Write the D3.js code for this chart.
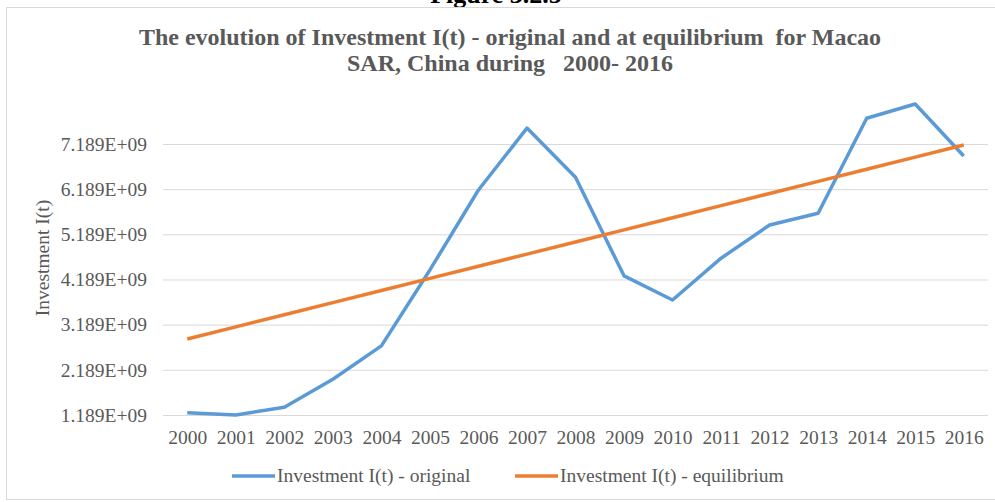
<!doctype html>
<html>
<head>
<meta charset="UTF-8">
<script src="https://d3js.org/d3.v7.min.js"></script>
<style>
  body { margin: 0; background: #fff; }
  text { font-family: "Liberation Serif", "Times New Roman", serif; }
</style>
</head>
<body>
<script>

  // data (values in units, not billions)
  years = ['2000','2001','2002','2003','2004','2005','2006','2007','2008','2009','2010','2011','2012','2013','2014','2015','2016']
  original = [1.24e9, 1.19e9, 1.36e9, 1.98e9, 2.72e9, 4.40e9, 6.17e9, 7.54e9, 6.45e9, 4.27e9, 3.735e9, 4.66e9, 5.395e9, 5.654e9, 7.757e9, 8.074e9, 6.923e9]
  equilibrium = [2.872e9, 3.140e9, 3.409e9, 3.677e9, 3.946e9, 4.214e9, 4.482e9, 4.751e9, 5.019e9, 5.288e9, 5.556e9, 5.824e9, 6.093e9, 6.361e9, 6.630e9, 6.898e9, 7.166e9]
  yTicks = [1.189e9, 2.189e9, 3.189e9, 4.189e9, 5.189e9, 6.189e9, 7.189e9]
  seriesNames = ['Investment I(t) - original', 'Investment I(t) - equilibrium']
  colors = ['#5b9bd5', '#ed7d31']

  width = 995
  height = 502
  grey = '#595959'

  svg = d3.select('body').append('svg')
    .attr('width', width)
    .attr('height', height)

  // cropped heading above the chart box
  svg.append('text')
    .text('Figure 3.2.5')
    .attr('x', 496)
    .attr('y', 3)
    .attr('text-anchor', 'middle')
    .style('font-size', '26px')
    .style('font-weight', 'bold')
    .style('fill', '#000')

  svg.append('rect')
    .attr('x', 6.5).attr('y', 7.5)
    .attr('width', 995).attr('height', 492)
    .style('fill', 'none')
    .style('stroke', '#d9d9d9')

  titleLines = ['The evolution of Investment I(t) - original and at equilibrium  for Macao', 'SAR, China during   2000- 2016']
  svg.selectAll('.title')
    .data(titleLines)
    .enter()
    .append('text')
    .attr('class', 'title')
    .text(d => d)
    .attr('x', 510)
    .attr('y', (d, i) => 45 + i * 25.7)
    .attr('text-anchor', 'middle')
    .style('white-space', 'pre')
    .style('font-size', '24px')
    .style('font-weight', 'bold')
    .style('fill', grey)

  x = d3.scalePoint().domain(years).range([163, 988]).padding(0.5)
  y = d3.scaleLinear().domain([1.189e9, 8.1e9]).range([415, 102.8])

  // gridlines + y labels
  svg.append('g')
    .attr('transform', 'translate(163,0)')
    .call(d3.axisLeft(y).tickValues(yTicks).tickSize(-825).tickFormat(d => d3.format('.3e')(d).replace('e+', 'E+0')).tickPadding(16))
    .call(g => g.select('.domain').remove())
    .call(g => g.selectAll('line').style('stroke', '#d9d9d9'))
    .call(g => g.selectAll('text').style('font-size', '19.5px').style('fill', grey).style('font-family', '"Liberation Serif", serif'))

  // x labels
  svg.append('g')
    .attr('transform', 'translate(0,415)')
    .call(d3.axisBottom(x).tickSize(0).tickPadding(15))
    .call(g => g.select('.domain').remove())
    .call(g => g.selectAll('text').style('font-size', '19.5px').style('fill', grey).style('font-family', '"Liberation Serif", serif'))

  svg.append('text')
    .text('Investment I(t)')
    .attr('transform', 'translate(49,258)rotate(-90)')
    .attr('text-anchor', 'middle')
    .style('font-size', '19.5px')
    .style('fill', grey)

  line = d3.line().x((d, i) => x(years[i])).y(d => y(d))

  ;[original, equilibrium].forEach((s, k) => {
    svg.append('path')
      .datum(s)
      .attr('d', line)
      .style('fill', 'none')
      .style('stroke', colors[k])
      .style('stroke-width', 3.5)
      .style('stroke-linejoin', 'round')
  })

  // legend
  legendX = [232, 515]
  lg = svg.selectAll('.legend')
    .data(seriesNames)
    .enter()
    .append('g')
    .attr('class', 'legend')
    .attr('transform', (d, i) => 'translate(' + legendX[i] + ',476)')

  lg.append('line')
    .attr('x1', 0).attr('x2', 43)
    .style('stroke', (d, i) => colors[i])
    .style('stroke-width', 3.5)

  lg.append('text')
    .text(d => d)
    .attr('x', 45)
    .attr('y', 6)
    .style('font-size', '19.5px')
    .style('fill', grey)

</script>
</body>
</html>
